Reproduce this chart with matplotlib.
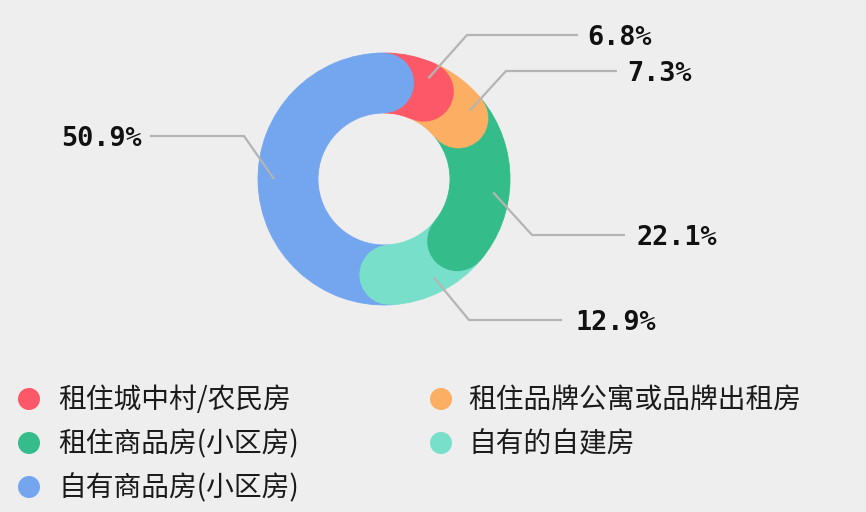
import numpy as np
import matplotlib
matplotlib.use("Agg")
import matplotlib.pyplot as plt
from matplotlib.patches import Wedge, Circle

# ---- data ----
categories = ["租住城中村/农民房", "租住品牌公寓或品牌出租房", "租住商品房(小区房)",
              "自有的自建房", "自有商品房(小区房)"]
values = [6.8, 7.3, 22.1, 12.9, 50.9]
value_labels = ["6.8%", "7.3%", "22.1%", "12.9%", "50.9%"]
colors = ["#FD5867", "#FCAE62", "#34BD8B", "#78DFCA", "#73A6EF"]

# ---- layout (pixels, top-down) ----
W, H = 866, 512
cx, cy = 384, 179
r_out, r_in = 126, 66
thick = r_out - r_in
r_mid = (r_out + r_in) / 2
bg = "#EEEEEE"

label_anchor_deg = [23.8, 51.4, 97.0, 153.2, 270.0]
label_anchor_r = 110
label_y = [35, 71, 235, 320, 136]
bend_x = [467, 506, 532, 469, 244]
line_end_x = [578, 617, 625, 562, 150]
text_x = [587, 627, 637, 575, 142]

fig = plt.figure(figsize=(W / 100, H / 100), dpi=100, facecolor=bg)
ax = fig.add_axes([0, 0, 1, 1])
ax.set_xlim(0, W)
ax.set_ylim(H, 0)
ax.set_aspect("equal")
ax.axis("off")
ax.set_facecolor(bg)

total = sum(values)
angles = np.cumsum([0] + [v / total * 360 for v in values])

# wedges (clockwise from top; y inverted so theta = alpha - 90)
for i, c in enumerate(colors):
    a0, a1 = angles[i], angles[i + 1]
    ax.add_patch(Wedge((cx, cy), r_out, a0 - 90, a1 - 90, width=thick,
                       facecolor=c, edgecolor=c, linewidth=0.6, zorder=2))

# rounded end caps
cap_z = [9, 8, 7, 6, 10]
for i, c in enumerate(colors):
    a = np.deg2rad(angles[i + 1])
    px = cx + r_mid * np.sin(a)
    py = cy - r_mid * np.cos(a)
    ax.add_patch(Circle((px, py), thick / 2, facecolor=c, edgecolor="none",
                        zorder=cap_z[i]))

# leader lines + value labels
for i in range(len(values)):
    a = np.deg2rad(label_anchor_deg[i])
    ax0 = cx + label_anchor_r * np.sin(a)
    ay0 = cy - label_anchor_r * np.cos(a)
    ax.plot([ax0, bend_x[i], line_end_x[i]], [ay0, label_y[i], label_y[i]],
            color="#B4B4B4", lw=1.6, zorder=20, solid_capstyle="butt")
    ha = "left" if line_end_x[i] > bend_x[i] else "right"
    ax.text(text_x[i], label_y[i] + 9.8, value_labels[i], ha=ha, va="baseline",
            fontsize=19.4, fontweight="bold", family=["DejaVu Sans Mono"],
            color="#111111", zorder=21)

# legend
leg_x_marker = [29, 441]
leg_x_text = [58, 468]
leg_y = [399, 443, 487]
for i, (cat, c) in enumerate(zip(categories, colors)):
    row, col = divmod(i, 2)
    ax.add_patch(Circle((leg_x_marker[col], leg_y[row]), 11, facecolor=c,
                        edgecolor="none", zorder=5))
    ax.text(leg_x_text[col], leg_y[row] + 1, cat, ha="left", va="center",
            fontsize=20, family=["Noto Sans CJK SC", "DejaVu Sans"],
            color="#1A1A1A")

fig.savefig("out.png", dpi=100, facecolor=bg)
